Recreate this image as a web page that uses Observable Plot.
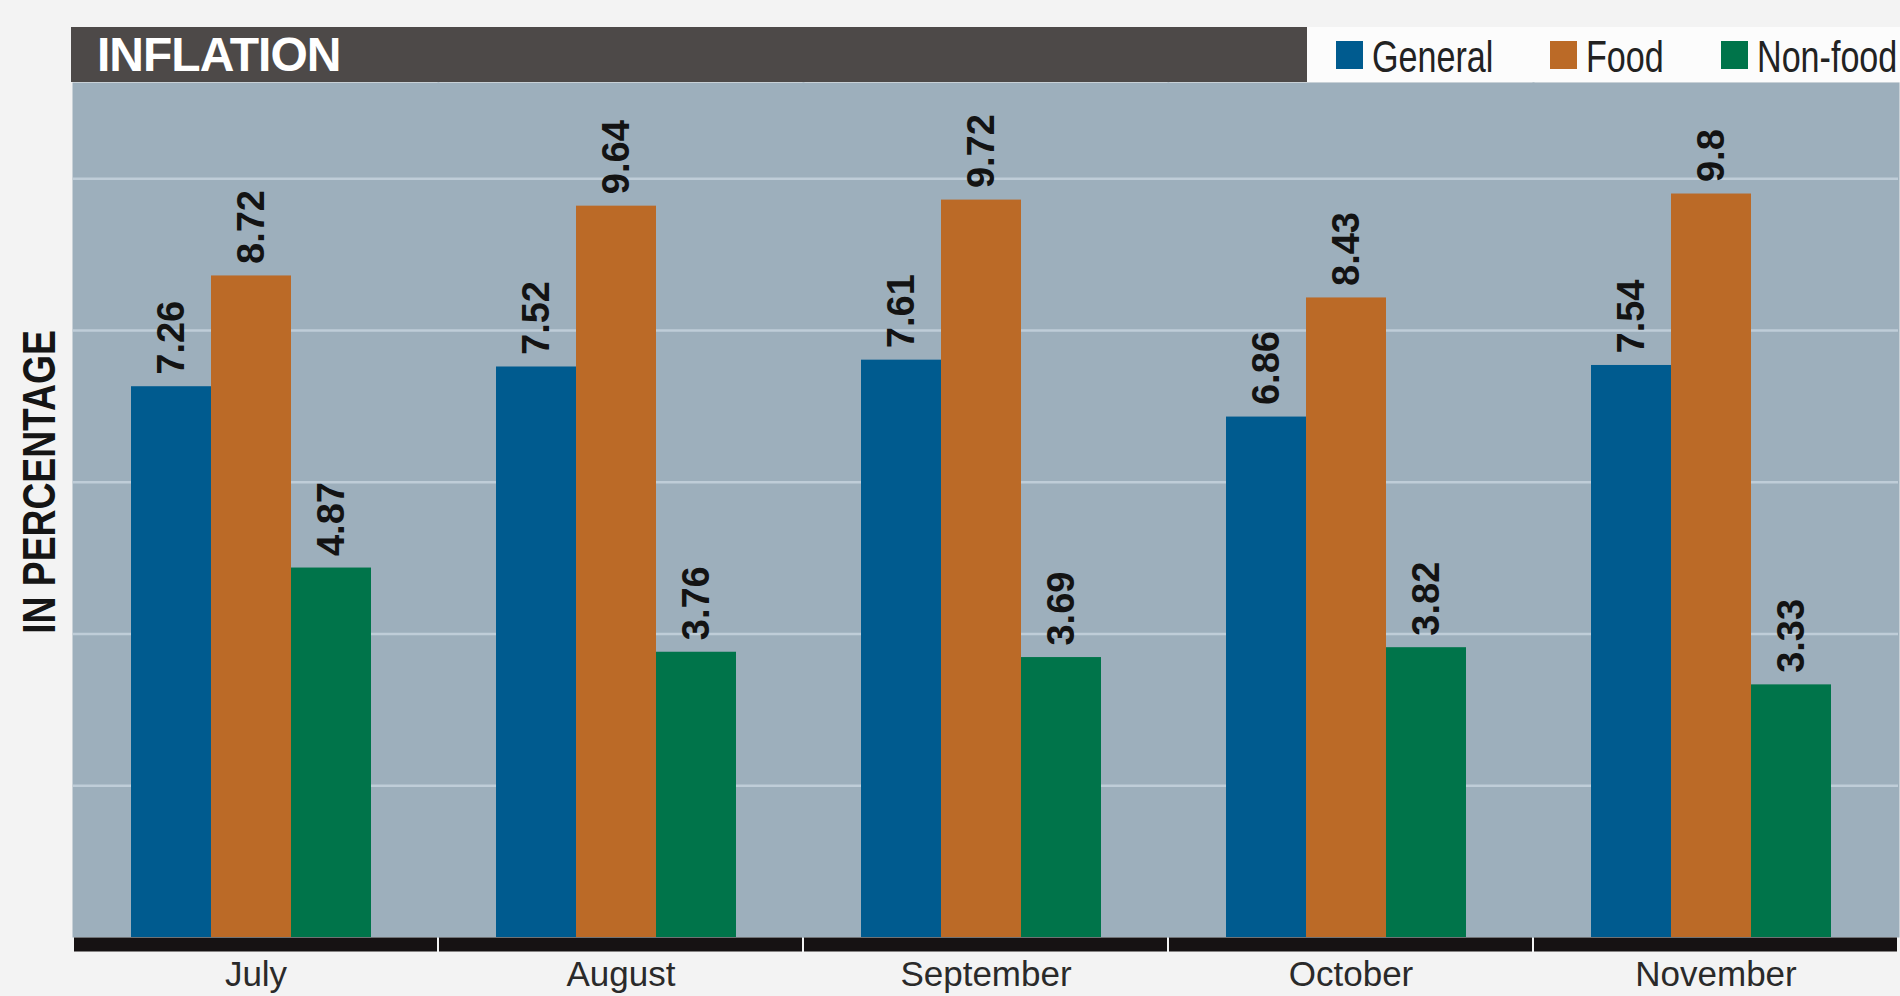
<!DOCTYPE html>
<html>
<head>
<meta charset="utf-8">
<script src="https://cdn.jsdelivr.net/npm/d3@7"></script>
<script src="https://cdn.jsdelivr.net/npm/@observablehq/plot@0.6"></script>
<style>
  html, body { margin: 0; padding: 0; background: #f3f3f3; width: 1900px; height: 996px; overflow: hidden; }
  body { position: relative; font-family: "Liberation Sans", Arial, sans-serif; }
  #header { position: absolute; left: 71px; top: 27px; width: 1236px; height: 55px; background: #4d4948; }
  #title { position: absolute; left: 26px; top: 4px; margin: 0; color: #ffffff; font-weight: bold; font-size: 48px; line-height: 1; letter-spacing: -1px; white-space: nowrap; }
  #legend { position: absolute; left: 1307px; top: 27px; width: 593px; height: 55px; background: #fcfcfc; display: flex; align-items: center; padding-left: 29px; box-sizing: border-box; gap: 57px; overflow: hidden; }
  .item { display: flex; align-items: center; white-space: nowrap; }
  .sw { width: 27px; height: 28px; display: inline-block; margin-right: 9px; flex: none; }
  .lab { display: inline-block; font-size: 44px; line-height: 1; color: #222; position: relative; top: 2px; transform: scaleX(0.775); transform-origin: 0 50%; }
  #ylabel { position: absolute; left: 39px; top: 482px; transform: translate(-50%, -50%) rotate(-90deg) scaleX(0.81); font-weight: bold; font-size: 46px; line-height: 1; color: #151515; white-space: nowrap; }
  #chart { position: absolute; left: 0; top: 82px; }
</style>
</head>
<body>
<div id="header"><div id="title">INFLATION</div></div>
<div id="legend"></div>
<div id="ylabel">IN PERCENTAGE</div>
<div id="chart"></div>
<script>
const months = ["July", "August", "September", "October", "November"];
const series = ["General", "Food", "Non-food"];
const general = [7.26, 7.52, 7.61, 6.86, 7.54];
const food = [8.72, 9.64, 9.72, 8.43, 9.8];
const nonFood = [4.87, 3.76, 3.69, 3.82, 3.33];
const colors = ["#005b8f", "#bb6a27", "#00744a"];
const gridValues = [2, 4, 6, 8, 10];

const seriesValues = [general, food, nonFood];
const data = months.flatMap((m, i) =>
  series.map((s, j) => ({ month: m, series: s, value: seriesValues[j][i] }))
);

// legend
const legend = document.getElementById("legend");
const labs = [];
series.forEach((s, j) => {
  const item = document.createElement("div");
  item.className = "item";
  const sw = document.createElement("span");
  sw.className = "sw";
  sw.style.background = colors[j];
  const lab = document.createElement("span");
  lab.className = "lab";
  lab.textContent = s;
  item.appendChild(sw);
  item.appendChild(lab);
  legend.appendChild(item);
  labs.push(lab);
});
// compensate layout width for the horizontal compression
labs.forEach(lab => {
  const scaled = lab.getBoundingClientRect().width;
  lab.style.marginRight = (scaled - lab.offsetWidth) + "px";
});

const chart = Plot.plot({
  width: 1900,
  height: 914,
  marginLeft: 71,
  marginRight: 0,
  marginTop: 0,
  marginBottom: 59,
  style: { background: "transparent", overflow: "visible" },
  fx: { domain: months, padding: 0, label: null },
  x: { domain: series, paddingInner: 0, paddingOuter: 0.76, align: 0.46, axis: null },
  y: { domain: [0, 11.27], axis: null },
  color: { domain: series, range: colors },
  marks: [
    Plot.frame({ fill: "#9dafbc", stroke: "none", insetLeft: -1, insetRight: -1 }),
    Plot.ruleY(gridValues, { stroke: "#bfcdd8", strokeWidth: 2.5 }),
    Plot.barY(data, { fx: "month", x: "series", y: "value", fill: "series" }),
    Plot.text(data, {
      fx: "month", x: "series", y: "value",
      text: d => String(d.value),
      rotate: -90, textAnchor: "start", dy: -12,
      fontSize: 38, fontWeight: "bold", fill: "#131313",
      fontFamily: "Liberation Sans, Arial, sans-serif"
    }),
    Plot.ruleY([0], { stroke: "#161213", strokeWidth: 14, dy: 7, insetLeft: 1, insetRight: 1 }),
    Plot.axisFx({
      anchor: "bottom", tickSize: 0, tickPadding: 24, label: null,
      fontSize: 35, fill: "#2a2a2a",
      fontFamily: "Liberation Sans, Arial, sans-serif"
    })
  ]
});
document.getElementById("chart").appendChild(chart);
</script>
</body>
</html>
